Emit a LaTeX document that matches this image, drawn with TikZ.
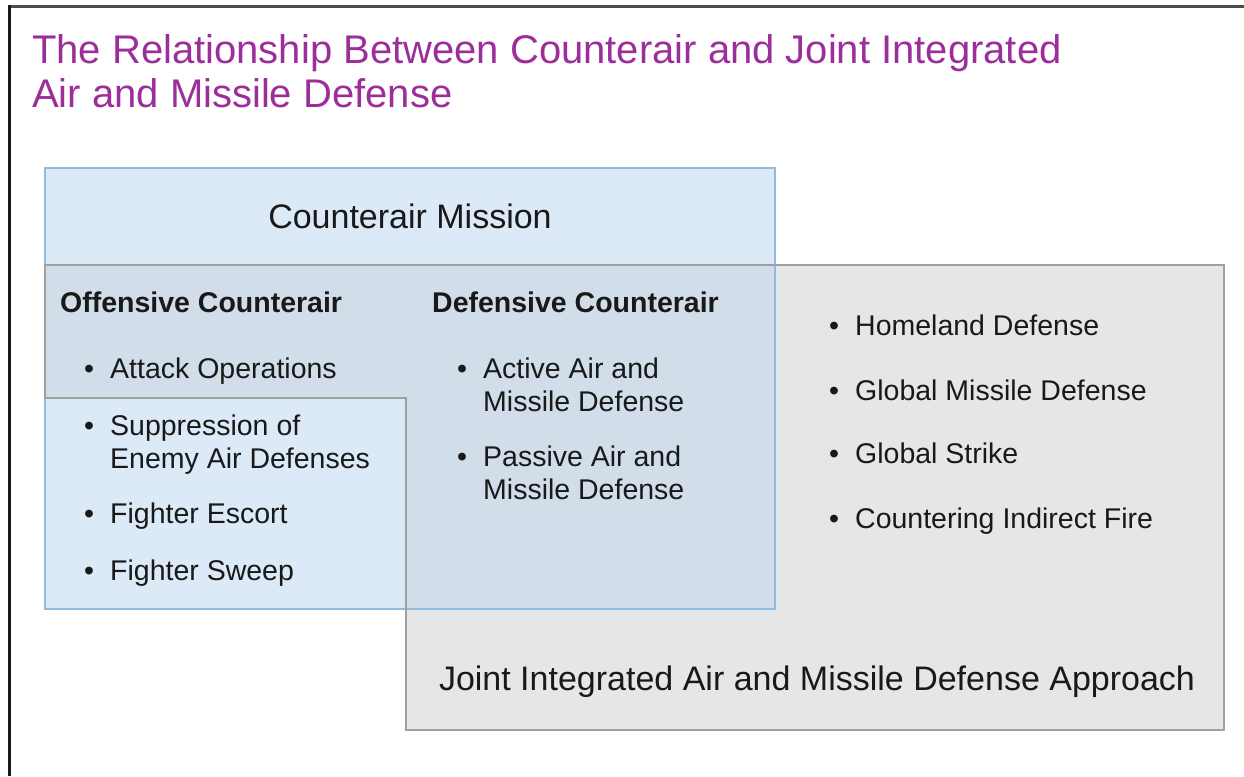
\documentclass[tikz,border=0pt]{standalone}
\usepackage{fontspec}
\setmainfont{Liberation Sans}
\definecolor{titlec}{RGB}{156,46,156}
\definecolor{grayfill}{RGB}{229,230,231}
\definecolor{grayline}{RGB}{160,160,160}
\definecolor{bluefill}{RGB}{220,234,247}
\definecolor{overlapfill}{RGB}{209,222,234}
\definecolor{blueline}{RGB}{146,188,222}
\definecolor{txtc}{RGB}{25,25,25}
\begin{document}
\begin{tikzpicture}[x=1pt,y=-1pt,
  item/.style={anchor=base west, inner sep=0pt, align=left, text=txtc,
    font=\fontsize{28.5}{33}\selectfont},
  head/.style={anchor=base west, inner sep=0pt, text=txtc,
    font=\fontsize{28.5}{33}\selectfont\bfseries},
  big/.style={anchor=base, inner sep=0pt, text=txtc,
    font=\fontsize{34}{40}\selectfont},
  ttl/.style={anchor=base west, inner sep=0pt, align=left, text=titlec,
    font=\fontsize{40}{44}\selectfont}]
\newcommand{\bul}{\llap{\textbullet\hspace{16pt}}}
\useasboundingbox (0,0) rectangle (1244,776);
\fill[white] (0,0) rectangle (1244,776);
% frame
\draw[line width=3pt, color=black!70] (9,6.5) -- (1244,6.5);
\draw[line width=3pt, color=black!90] (9,5) -- (9,776);
% title (base anchor = last line's baseline)
\node[ttl] (title) at (32,107) {The Relationship Between Counterair and Joint Integrated\\Air and Missile Defense};
% JIAMD region
\fill[grayfill] (45,265) -- (1224,265) -- (1224,730) -- (406,730) -- (406,398) -- (45,398) -- cycle;
% Counterair box
\fill[bluefill] (45,168) rectangle (775,609);
\fill[overlapfill] (45,265) -- (775,265) -- (775,609) -- (406,609) -- (406,398) -- (45,398) -- cycle;
\draw[blueline, line width=2pt] (45,168) rectangle (775,609);
\draw[grayline, line width=2pt] (45,265) -- (1224,265) -- (1224,730) -- (406,730) -- (406,398) -- (45,398) -- cycle;
% texts
\node[big] (cam) at (410,228) {Counterair Mission};
\node[head] (oca) at (60,312) {Offensive Counterair};
\node[head] (dca) at (432,312) {Defensive Counterair};
\node[item] (o1) at (110,378) {\bul Attack Operations};
\node[item] (o2) at (110,468) {\bul Suppression of\\Enemy Air Defenses};
\node[item] (o3) at (110,523) {\bul Fighter Escort};
\node[item] (o4) at (110,580) {\bul Fighter Sweep};
\node[item] (d1) at (483,411) {\bul Active Air and\\Missile Defense};
\node[item] (d2) at (483,499) {\bul Passive Air and\\Missile Defense};
\node[item] (j1) at (855,335) {\bul Homeland Defense};
\node[item] (j2) at (855,400) {\bul Global Missile Defense};
\node[item] (j3) at (855,463) {\bul Global Strike};
\node[item] (j4) at (855,528) {\bul Countering Indirect Fire};
\node[big] (jam) at (817,690) {Joint Integrated Air and Missile Defense Approach};
\end{tikzpicture}
\end{document}
